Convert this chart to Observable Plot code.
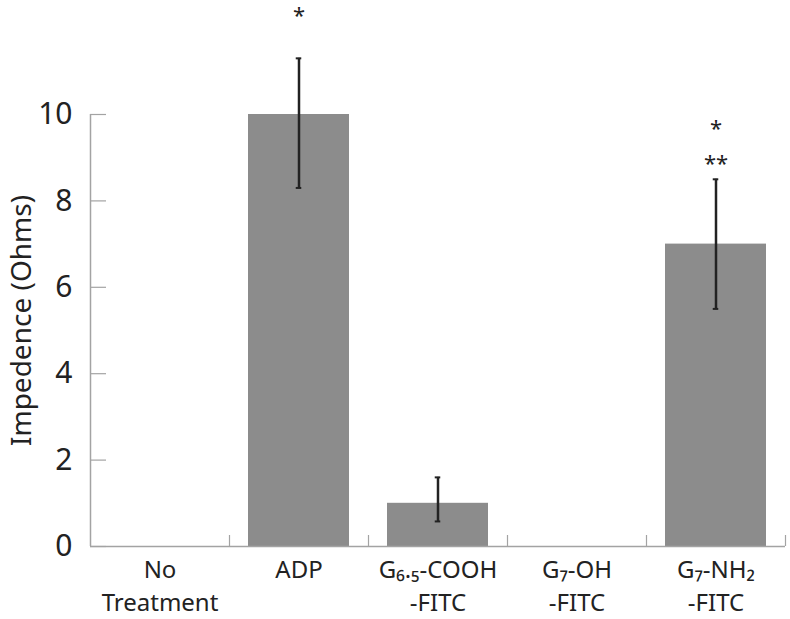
<!DOCTYPE html>
<html>
<head>
<meta charset="utf-8">
<script src="https://cdn.jsdelivr.net/npm/d3@7"></script>
<script src="https://cdn.jsdelivr.net/npm/@observablehq/plot@0.6"></script>
<style>
  html, body { margin: 0; padding: 0; background: #fff; }
  #chart svg { display: block; }
</style>
</head>
<body>
<div id="chart"></div>
<script>
const categories = ["No\nTreatment", "ADP", "G₆.₅-COOH\n-FITC", "G₇-OH\n-FITC", "G₇-NH₂\n-FITC"];
const values = [0, 10, 1, 0, 7];
const errLow = [null, 8.3, 0.58, null, 5.5];
const errHigh = [null, 11.3, 1.6, null, 8.5];
const starLabels = [null, "*", null, null, "*"];
const starValues = [null, 12.28, null, null, 9.67];
const star2Labels = [null, null, null, null, "**"];
const star2Values = [null, null, null, null, 8.85];
const yTicks = [0, 2, 4, 6, 8, 10];
const yLabel = "Impedence (Ohms)";

const width = 790, height = 619;
const marginLeft = 90, marginRight = 5, marginTop = 6, marginBottom = 73;
const plotW = width - marginLeft - marginRight;
const plotH = height - marginTop - marginBottom;
const step = plotW / categories.length;
const padding = 0.27;
const bandwidth = step * (1 - padding);

const bars = categories.map((c, i) => ({c, v: values[i]}));
const errs = categories.map((c, i) => ({c, lo: errLow[i], hi: errHigh[i]})).filter(d => d.lo != null);
const stars1 = categories.map((c, i) => ({c, t: starLabels[i], y: starValues[i]})).filter(d => d.t);
const stars2 = categories.map((c, i) => ({c, t: star2Labels[i], y: star2Values[i]})).filter(d => d.t);

const axisGray = "#a3a3a3";
const font = "'Noto Sans', 'Open Sans', sans-serif";

const chart = Plot.plot({
  width, height, marginLeft, marginRight, marginTop, marginBottom,
  style: {fontFamily: font, background: "#fff", color: "#222"},
  x: {domain: categories, paddingInner: padding, paddingOuter: padding / 2, label: null},
  y: {domain: [0, 12.5], label: null},
  marks: [
    Plot.barY(bars, {x: "c", y: "v", fill: "#8c8c8c"}),
    Plot.ruleY([0], {stroke: axisGray, strokeWidth: 1.5}),
    Plot.ruleX([categories[0]], {x: d => d, y1: 0, y2: d3.max(yTicks), dx: -step / 2, stroke: axisGray, strokeWidth: 1.5}),
    Plot.ruleY(yTicks, {y: d => d, insetRight: plotW - 16, stroke: axisGray, strokeWidth: 1.2}),
    Plot.ruleX(categories, {x: d => d, y1: 0, dx: step / 2, y2: 0, insetTop: -11, stroke: axisGray, strokeWidth: 1.2}),
    Plot.ruleX(errs, {x: "c", y1: "lo", y2: "hi", stroke: "#222", strokeWidth: 2.5}),
    Plot.tickY(errs, {x: "c", y: "lo", stroke: "#222", strokeWidth: 2, insetLeft: bandwidth / 2 - 3, insetRight: bandwidth / 2 - 3}),
    Plot.tickY(errs, {x: "c", y: "hi", stroke: "#222", strokeWidth: 2, insetLeft: bandwidth / 2 - 3, insetRight: bandwidth / 2 - 3}),
    Plot.text(stars1, {x: "c", y: "y", text: "t", fontSize: 22, fill: "#222"}),
    Plot.text(stars2, {x: "c", y: "y", text: "t", fontSize: 22, fill: "#222"}),
    Plot.axisY(yTicks, {tickSize: 0, tickPadding: 18, fontSize: 30, label: null, fill: "#222"}),
    Plot.axisX({tickSize: 0, tickPadding: 8, fontSize: 24, lineHeight: 1.375, label: null, fill: "#222"}),
    Plot.text([yLabel], {x: null, y: null, text: d => d, frameAnchor: "left", textAnchor: "middle", rotate: -90, dx: -68, dy: 44, fontSize: 28, fill: "#222"})
  ]
});
document.getElementById("chart").appendChild(chart);
</script>
</body>
</html>
